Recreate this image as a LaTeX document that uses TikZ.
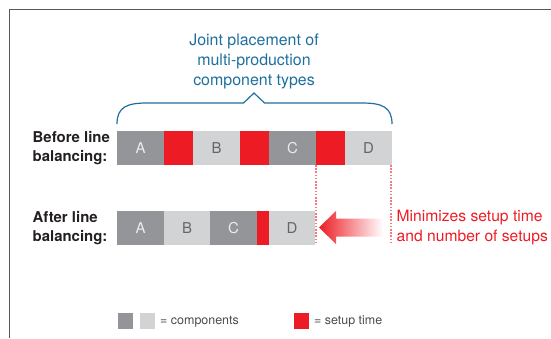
\documentclass[tikz,border=0pt]{standalone}
\usepackage{fontspec}
\setmainfont{TeX Gyre Heros}
\definecolor{cdark}{HTML}{939598}
\definecolor{clight}{HTML}{D1D3D4}
\definecolor{cred}{HTML}{ED1C24}
\definecolor{cblue}{HTML}{1E6F9E}
\definecolor{ctext}{HTML}{231F20}
\definecolor{cframe}{HTML}{58595B}
\definecolor{cdot}{HTML}{F07C80}
\begin{document}
\begin{tikzpicture}[x=1bp,y=-1bp,
  blk/.style={anchor=north west,minimum height=34bp,inner sep=0,outer sep=0,font=\fontsize{15}{15}\selectfont},
  dk/.style={blk,fill=cdark,text=white!92!black},
  lt/.style={blk,fill=clight,text=black!60},
  rd/.style={blk,fill=cred},
  lbl/.style={align=left,anchor=west,text=ctext,font=\fontsize{15}{19}\selectfont\bfseries,inner sep=0},
  dotline/.style={cdot,line width=1.2bp,dash pattern=on 1.6bp off 1.6bp},
  legbox/.style={anchor=north west,minimum width=15bp,minimum height=16bp,inner sep=0,outer sep=0},
  legtxt/.style={anchor=west,inner sep=0,text=black!70,font=\fontsize{12.5}{12.5}\selectfont}]
\useasboundingbox (0,0) rectangle (551,338);
% frame
\draw[cframe,line width=1.5bp] (9.5,338) -- (9.5,9.5) -- (551,9.5);
% title
\node[align=center,text=cblue,font=\fontsize{16}{20.3}\selectfont,inner sep=0] (title) at (254,61.5) {Joint placement of\\multi-production\\component types};
% brace
\draw[cblue,line width=1.2bp] (117,124) .. controls (117,107) and (127,103) .. (147,103) -- (243.5,103) -- (254,93) -- (264.5,103) -- (362,103) .. controls (382,103) and (392,107) .. (392,124);
% before
\node[lbl] (before) at (32.5,148) {Before line\\balancing:};
\node[dk,minimum width=47bp] (a1) at (117,131) {A};
\node[rd,minimum width=29bp] (r1) at (164,131) {};
\node[lt,minimum width=47bp] (b1) at (193,131) {B};
\node[rd,minimum width=29bp] (r2) at (240,131) {};
\node[dk,minimum width=47bp] (c1) at (269,131) {C};
\node[rd,minimum width=29bp] (r3) at (316,131) {};
\node[lt,minimum width=47bp] (d1) at (345,131) {D};
% after
\node[lbl] (after) at (32.5,228.5) {After line\\balancing:};
\node[dk,minimum width=47bp] (a2) at (117,211) {A};
\node[lt,minimum width=46bp] (b2) at (164,211) {B};
\node[dk,minimum width=47bp] (c2) at (210,211) {C};
\node[rd,minimum width=12bp] (r4) at (257,211) {};
\node[lt,minimum width=46bp] (d2) at (269,211) {D};
% dotted guides
\draw[dotline] (r3.south west) -- (r3.south west |- d2.south);
\draw[dotline] ([xshift=-1bp]d1.south east) -- ([xshift=-1bp]d1.south east |- d2.south);
% arrow
\coordinate (tip) at (319,227.5);
\shade[left color=cred,right color=white] (tip) -- (336,211) -- (336,218.5) -- (383,218.5) -- (383,236.5) -- (336,236.5) -- (336,244) -- cycle;
\node[anchor=west,align=left,text=cred,font=\fontsize{15.7}{20}\selectfont,inner sep=0] (note) at (396.5,227.5) {Minimizes setup time\\and number of setups};
% legend
\node[legbox,fill=cdark] (lg1) at (118,313) {};
\node[legbox,fill=clight] (lg2) at (140,313) {};
\node[legtxt] (lgt1) at (160,321.5) {= components};
\node[legbox,fill=cred] (lg3) at (294,313) {};
\node[legtxt] (lgt2) at (314,321.5) {= setup time};
\end{tikzpicture}
\end{document}
